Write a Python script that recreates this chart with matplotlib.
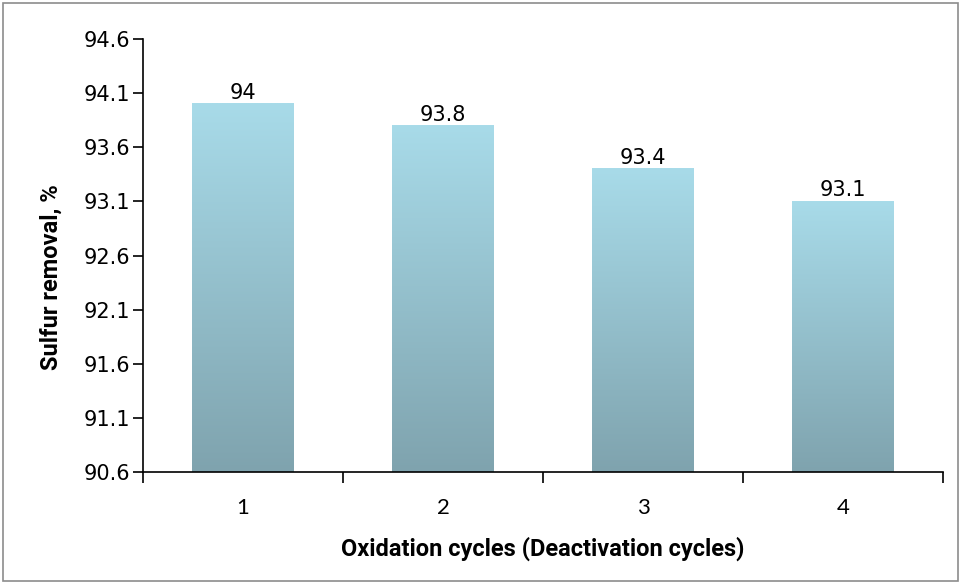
import matplotlib.pyplot as plt
import numpy as np
from matplotlib.colors import LinearSegmentedColormap

cycles = ["1", "2", "3", "4"]
removal = [94.0, 93.8, 93.4, 93.1]
bar_labels = ["94", "93.8", "93.4", "93.1"]
y_ticks = [90.6, 91.1, 91.6, 92.1, 92.6, 93.1, 93.6, 94.1, 94.6]

fig = plt.figure(figsize=(9.61, 5.84), dpi=100)
# gray frame round the whole chart area
fig.patches.append(plt.Rectangle((0.003, 0.005), 0.994, 0.99, transform=fig.transFigure,
                                 fill=False, edgecolor="#8c8c8c", linewidth=1.2))
ax = fig.add_axes([143 / 961, 1 - 472 / 584, 800 / 961, 433 / 584])

x = np.arange(len(cycles))
bars = ax.bar(x, [v - 90.6 for v in removal], bottom=90.6, width=0.51,
              color="none", edgecolor="none")

cmap = LinearSegmentedColormap.from_list("grad", ["#7fa3ae", "#a8dbe9"])
grad = np.linspace(0, 1, 256).reshape(-1, 1)
for b, lab in zip(bars, bar_labels):
    x0, y0 = b.get_x(), b.get_y()
    w, h = b.get_width(), b.get_height()
    ax.imshow(grad, cmap=cmap, origin="lower", aspect="auto",
              extent=[x0, x0 + w, y0, y0 + h], zorder=2)
    ax.text(x0 + w / 2, y0 + h + 0.01, lab, ha="center", va="bottom", fontsize=15)

ax.set_xlim(-0.5, 3.5)
ax.set_ylim(90.6, 94.6)
ax.set_yticks(y_ticks)
ax.set_yticklabels([f"{t:.1f}" for t in y_ticks], fontsize=15)
ax.set_xticks(np.arange(-0.5, 4, 1))
ax.set_xticklabels([])
ax.set_xticks(x, minor=True)
ax.set_xticklabels(cycles, minor=True, fontsize=16, family="Lato")
ax.tick_params(axis="x", which="major", length=8, width=1.2, direction="out")
ax.tick_params(axis="x", which="minor", length=0, pad=19)
ax.tick_params(axis="y", length=7, width=1.2, direction="out", pad=2)
for s in ["top", "right"]:
    ax.spines[s].set_visible(False)
for s in ["left", "bottom"]:
    ax.spines[s].set_linewidth(1.2)

ax.set_xlabel("Oxidation cycles (Deactivation cycles)", fontsize=17, fontweight="bold",
              family="Roboto", labelpad=13)
ax.set_ylabel("Sulfur removal, %", fontsize=17, fontweight="bold", family="Roboto")
ax.yaxis.set_label_coords(-0.1, 0.45)

plt.savefig("out.png", dpi=100)
